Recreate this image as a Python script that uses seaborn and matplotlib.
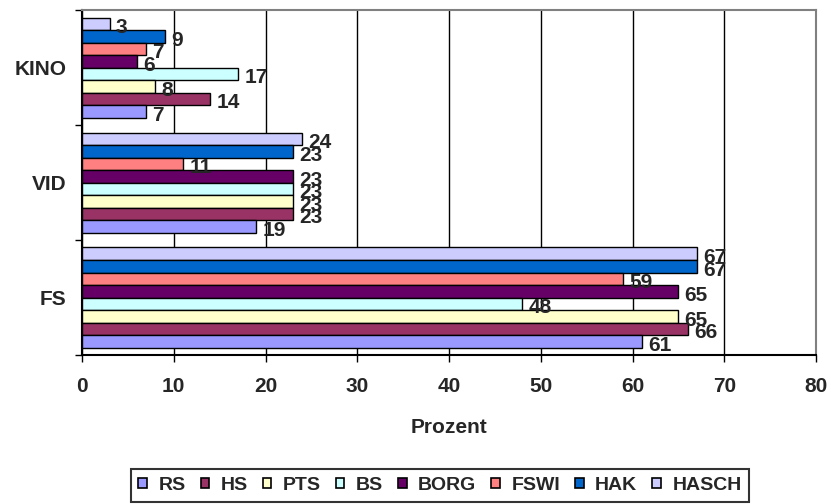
import pandas as pd
import seaborn as sns
from matplotlib import pyplot as plt
from matplotlib.patches import Patch

categories = ["KINO", "VID", "FS"]
schools = ["RS", "HS", "PTS", "BS", "BORG", "FSWI", "HAK", "HASCH"]
kino = [7, 14, 8, 17, 6, 7, 9, 3]
vid = [19, 23, 23, 23, 23, 11, 23, 24]
fs = [61, 66, 65, 48, 65, 59, 67, 67]
colors = ["#9999FF", "#993366", "#FFFFCC", "#CCFFFF",
          "#660066", "#FF8080", "#0066CC", "#CCCCFF"]

rows = []
for cat, vals in zip(categories, [kino, vid, fs]):
    for s, v in zip(schools, vals):
        rows.append({"cat": cat, "school": s, "value": v})
df = pd.DataFrame(rows)

sns.set_style("white")
plt.rcParams["font.family"] = ["Liberation Sans", "DejaVu Sans"]
plt.rcParams["font.weight"] = "bold"

fig = plt.figure(figsize=(8.31, 5.04), dpi=100)
ax = fig.add_axes([0.0987, 0.2956, 0.8833, 0.6845])

palette = dict(zip(schools, colors))
# RS sits at the bottom of each group, so draw hue levels reversed
sns.barplot(data=df, y="cat", x="value", hue="school", order=categories,
            hue_order=schools[::-1], palette=palette, orient="h",
            width=0.87, edgecolor="black", linewidth=1, saturation=1,
            errorbar=None, legend=False, ax=ax, zorder=3)

for cont in ax.containers:
    for bar in cont:
        w = bar.get_width()
        yc = bar.get_y() + bar.get_height() / 2
        ax.annotate(f"{w:g}", xy=(w, yc), xytext=(4.5, -3),
                    textcoords="offset points", ha="left", va="center",
                    fontsize=15, fontweight="bold", zorder=5)

ax.set_xlim(0, 80)
ax.set_ylim(2.5, -0.5)
ax.set_xticks(range(0, 81, 10))
ax.set_xticklabels([str(t) for t in range(0, 81, 10)], fontsize=15, fontweight="bold")
ax.tick_params(axis="x", direction="out", length=5, width=1, pad=11, color="black", bottom=True)
ax.set_yticks([-0.5, 0.5, 1.5, 2.5])
ax.set_yticklabels([])
ax.tick_params(axis="y", which="major", direction="out", length=5, width=1, color="black", left=True)
ax.set_yticks([0, 1, 2], minor=True)
ax.set_yticklabels(categories, minor=True, fontsize=15, fontweight="bold")
ax.tick_params(axis="y", which="minor", length=0, pad=11)
ax.set_ylabel("")
ax.set_xlabel("Prozent", fontsize=15, fontweight="bold", labelpad=16)

ax.grid(axis="x", color="black", linewidth=1, zorder=0)
ax.set_axisbelow(True)
for side in ["left", "bottom"]:
    ax.spines[side].set_color("black")
    ax.spines[side].set_linewidth(1.5)
for side in ["top", "right"]:
    ax.spines[side].set_color("#808080")
    ax.spines[side].set_linewidth(1.5)

handles = [Patch(facecolor=c, edgecolor="black", linewidth=1.2) for c in colors]
leg = fig.legend(handles, schools, loc="center", bbox_to_anchor=(0.5295, 0.037),
                 ncol=8, frameon=True, fancybox=False, edgecolor="black",
                 prop={"weight": "bold", "size": 14},
                 handlelength=0.45, handleheight=0.45, handletextpad=0.6,
                 columnspacing=0.75, borderpad=0.4, borderaxespad=0)
leg.get_frame().set_linewidth(1.5)

fig.savefig("out.png", dpi=100)
